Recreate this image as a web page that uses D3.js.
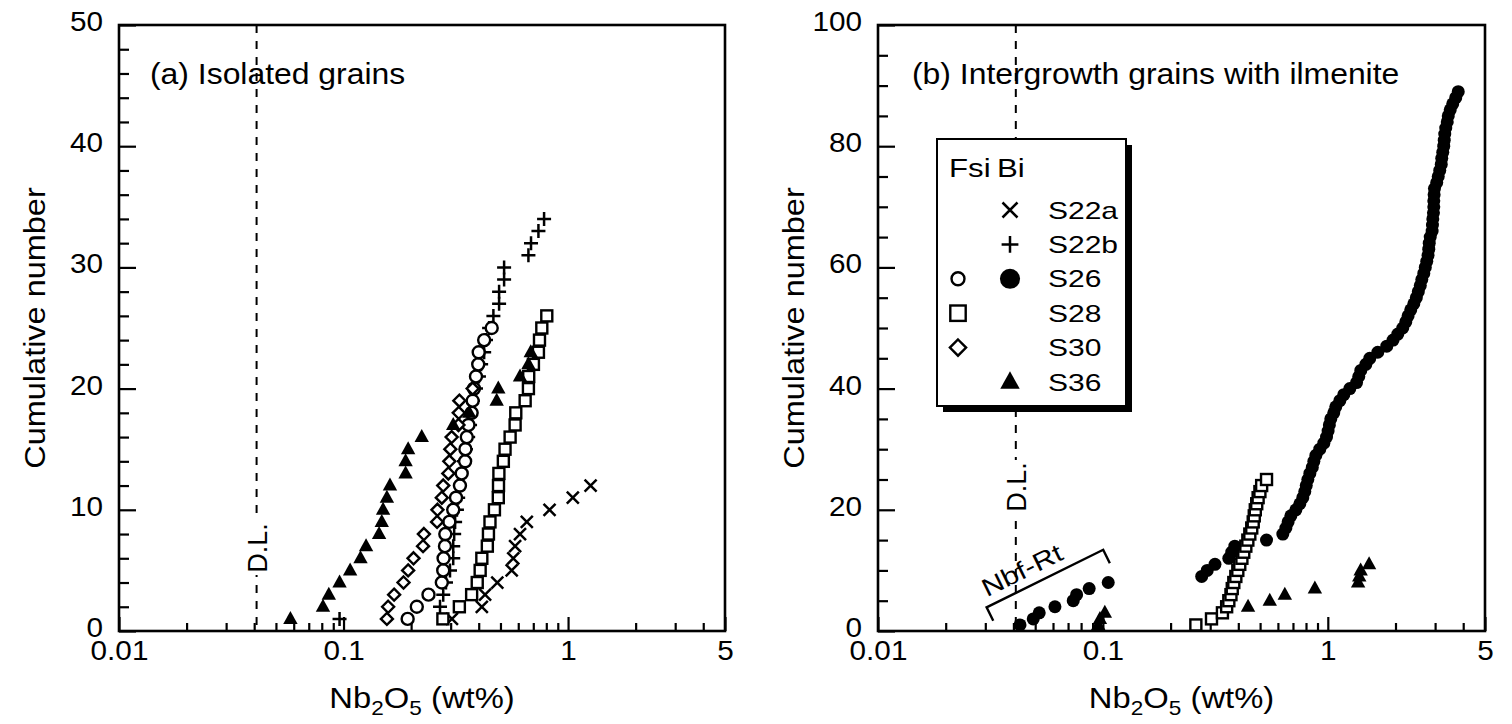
<!DOCTYPE html>
<html>
<head>
<meta charset="utf-8">
<script src="https://cdn.jsdelivr.net/npm/d3@7"></script>
<style>
  body { margin: 0; background: #fff; }
  svg { display: block; font-family: "Liberation Sans", Arial, Helvetica, sans-serif; }
</style>
</head>
<body>
<svg id="chart" width="1512" height="724"></svg>
<script>
// Nb2O5 contents (wt%) of rutile grains, listed in rank order;
// the cumulative number of a grain is its rank (1, 2, 3, ...).

const xTickValues = [0.01, 0.1, 1, 5];
const xTickLabels = ["0.01", "0.1", "1", "5"];
const yTicksA = [0, 10, 20, 30, 40, 50];
const yTicksB = [0, 20, 40, 60, 80, 100];
const detectionLimit = 0.041;

// (a) Isolated grains
const a_S22a = [0.304, 0.413, 0.427, 0.484, 0.561, 0.570, 0.581, 0.611, 0.655, 0.827, 1.05, 1.26];
const a_S22b = [0.096, 0.269, 0.278, 0.286, 0.298, 0.308, 0.308, 0.311, 0.314, 0.320, 0.324, 0.330,
                0.334, 0.344, 0.351, 0.359, 0.366, 0.370, 0.377, 0.389, 0.401, 0.410, 0.423, 0.431,
                0.445, 0.465, 0.493, 0.493, 0.519, 0.519, 0.666, 0.684, 0.738, 0.782];
const a_S26 = [0.193, 0.212, 0.239, 0.274, 0.278, 0.279, 0.283, 0.284, 0.296, 0.308, 0.317, 0.330,
               0.336, 0.348, 0.349, 0.354, 0.360, 0.372, 0.376, 0.381, 0.389, 0.398, 0.400, 0.423, 0.457];
const a_S28 = [0.277, 0.328, 0.372, 0.394, 0.406, 0.413, 0.437, 0.442, 0.449, 0.470, 0.489, 0.490,
               0.492, 0.515, 0.524, 0.552, 0.581, 0.585, 0.644, 0.666, 0.668, 0.701, 0.738, 0.746,
               0.764, 0.804];
const a_S30 = [0.156, 0.158, 0.168, 0.185, 0.194, 0.205, 0.226, 0.228, 0.261, 0.262, 0.274, 0.278,
               0.293, 0.296, 0.299, 0.303, 0.325, 0.326, 0.328, 0.376];
const a_S36 = [0.058, 0.081, 0.086, 0.096, 0.107, 0.119, 0.126, 0.144, 0.148, 0.150, 0.156, 0.161,
               0.189, 0.189, 0.194, 0.223, 0.308, 0.363, 0.481, 0.489, 0.611, 0.666, 0.682];

// (b) Intergrowth grains with ilmenite
const b_S26 = [0.0428, 0.049, 0.0521, 0.0612, 0.0738, 0.0764, 0.0869, 0.1056,
               0.275, 0.291, 0.315, 0.363, 0.374, 0.386, 0.534,
               0.631, 0.651, 0.666, 0.685, 0.721, 0.751, 0.774, 0.790, 0.802, 0.815,
               0.832, 0.853, 0.867, 0.885, 0.921, 0.960, 0.987, 1.003, 1.016, 1.031,
               1.063, 1.085, 1.131, 1.178, 1.253, 1.342, 1.373, 1.402, 1.476, 1.537,
               1.668, 1.829, 1.951, 2.048, 2.154, 2.222, 2.275, 2.338, 2.412, 2.475,
               2.526, 2.578, 2.618, 2.672, 2.713, 2.754, 2.791, 2.811, 2.825, 2.854,
               2.91, 2.92, 2.93, 2.95, 2.96, 2.96, 2.97, 2.98, 3.05, 3.098,
               3.146, 3.195, 3.211, 3.244, 3.277, 3.294, 3.311, 3.345, 3.397, 3.432,
               3.502, 3.593, 3.706, 3.802];
const b_S28 = [0.259, 0.304, 0.340, 0.355, 0.363, 0.371, 0.376, 0.382, 0.390, 0.398, 0.406, 0.415,
               0.423, 0.432, 0.441, 0.450, 0.459, 0.466, 0.471, 0.476, 0.483, 0.490, 0.499, 0.508, 0.534];
const b_S36 = [0.0953, 0.097, 0.102, 0.442, 0.552, 0.644, 0.876, 1.364, 1.38, 1.40, 1.526];

// Nbf-Rt bracket ends in data units (Nb2O5 wt%, cumulative number)
const nbfBracket = [[0.0304, 3.9], [0.1003, 13.4]];

// Legend rows: sample, Fsi symbol, Bi symbol
const legendSamples = ["S22a", "S22b", "S26", "S28", "S30", "S36"];
const legendFsi = [null, null, "circleOpen", "square", "diamond", null];
const legendBi = ["times", "plus", "circleFilled", null, null, "triangle"];

const svg = d3.select("#chart");

// The lettering of this figure is a little wider than Arial/Liberation Sans,
// so text is stretched horizontally by a small factor.
function label(g, str, opt) {
  const t = g.append("text")
    .attr("transform", `translate(${opt.x},${opt.y}) rotate(${opt.rotate || 0}) scale(${opt.sx || 1},1)`)
    .attr("font-size", opt.size)
    .attr("text-anchor", opt.anchor || "start")
    .attr("fill", "#000");
  if (str !== null) t.text(str);
  return t;
}

// ---- marker drawing ----
function drawMarker(g, type, cx, cy, s = 1) {
  switch (type) {
    case "circleOpen":
      g.append("circle").attr("cx", cx).attr("cy", cy).attr("r", 6 * s)
        .attr("fill", "#fff").attr("stroke", "#000").attr("stroke-width", 2.4);
      break;
    case "circleFilled":
      g.append("circle").attr("cx", cx).attr("cy", cy).attr("r", 6.5 * s).attr("fill", "#000");
      break;
    case "square": {
      const h = 5.5 * s;
      g.append("rect").attr("x", cx - h).attr("y", cy - h).attr("width", 2 * h).attr("height", 2 * h)
        .attr("fill", "#fff").attr("stroke", "#000").attr("stroke-width", 2.4);
      break;
    }
    case "diamond": {
      const h = 6 * s;
      g.append("path")
        .attr("d", `M${cx},${cy - h}L${cx + h},${cy}L${cx},${cy + h}L${cx - h},${cy}Z`)
        .attr("fill", "#fff").attr("stroke", "#000").attr("stroke-width", 2.4);
      break;
    }
    case "triangle":
      g.append("path")
        .attr("d", `M${cx},${cy - 8 * s}L${cx + 7.2 * s},${cy + 5 * s}L${cx - 7.2 * s},${cy + 5 * s}Z`)
        .attr("fill", "#000");
      break;
    case "plus": {
      const h = 7 * s;
      g.append("path")
        .attr("d", `M${cx - h},${cy}H${cx + h}M${cx},${cy - h}V${cy + h}`)
        .attr("stroke", "#000").attr("stroke-width", 2.5).attr("fill", "none");
      break;
    }
    case "times": {
      const h = 6 * s;
      g.append("path")
        .attr("d", `M${cx - h},${cy - h}L${cx + h},${cy + h}M${cx + h},${cy - h}L${cx - h},${cy + h}`)
        .attr("stroke", "#000").attr("stroke-width", 2.5).attr("fill", "none");
      break;
    }
  }
}

// ---- one panel ----
function drawPanel(cfg) {
  const { left, right, top, bottom } = cfg.box;
  const x = d3.scaleLog().domain([0.01, 5]).range([left, right]);
  const y = d3.scaleLinear().domain([0, cfg.yMax]).range([bottom, top]);
  const g = svg.append("g");

  // minor log ticks 2..9 per decade
  const xMinor = [];
  [0.01, 0.1, 1].forEach(dec => {
    for (let k = 2; k <= 9; k++) {
      const v = +(k * dec).toPrecision(3);
      if (v < 5) xMinor.push(v);
    }
  });
  const yMinor = d3.range(0, cfg.yMax + 0.001, cfg.yMinorStep).filter(v => !cfg.yTicks.includes(v));

  const axX = g.append("g").attr("transform", `translate(0,${bottom})`);
  axX.append("g").call(d3.axisBottom(x).tickValues(xMinor).tickSize(-8).tickFormat(""));
  axX.append("g").call(d3.axisBottom(x).tickValues(xTickValues).tickSize(-14).tickPadding(10)
    .tickFormat((d, i) => xTickLabels[i]));

  const axY = g.append("g").attr("transform", `translate(${left},0)`);
  axY.append("g").call(d3.axisLeft(y).tickValues(yMinor).tickSize(-10).tickFormat(""));
  axY.append("g").call(d3.axisLeft(y).tickValues(cfg.yTicks).tickSize(-17).tickPadding(14.5));

  g.selectAll(".domain").remove();
  g.selectAll(".tick line").attr("stroke", "#000").attr("stroke-width", 2.2);
  g.selectAll(".tick text").attr("font-size", 27).attr("fill", "#000")
    .style("font-family", '"Liberation Sans", Arial, Helvetica, sans-serif')
    .attr("transform", "scale(1.1,1)");
  axY.selectAll(".tick text").attr("dy", "0.2em");

  // frame
  g.append("rect").attr("x", left).attr("y", top).attr("width", right - left).attr("height", bottom - top)
    .attr("fill", "none").attr("stroke", "#000").attr("stroke-width", 2.6);

  // detection limit
  const xd = x(detectionLimit);
  g.append("line").attr("x1", xd).attr("x2", xd).attr("y1", top).attr("y2", bottom)
    .attr("stroke", "#000").attr("stroke-width", 2).attr("stroke-dasharray", "8,8");
  g.append("rect").attr("x", xd - 12).attr("y", cfg.dlY - 27).attr("width", 24).attr("height", 54)
    .attr("fill", "#fff");
  label(g, "D.L.", { x: xd + 10, y: cfg.dlY, rotate: -90, size: 27, anchor: "middle" });

  // series
  const marks = g.append("g");
  cfg.series.forEach(s => {
    s.values.forEach((v, i) => drawMarker(marks, s.type, x(v), y(i + 1)));
  });

  // panel title
  label(g, cfg.title, { x: cfg.titleX, y: 84, size: 29, sx: 1.1 });

  // axis titles
  label(g, "Cumulative number", { x: cfg.yTitleX, y: (top + bottom) / 2, rotate: -90, size: 29, sx: 1.12, anchor: "middle" });
  const xt = label(g, null, { x: (left + right) / 2, y: 708, size: 29, sx: 1.13, anchor: "middle" });
  xt.append("tspan").text("Nb");
  xt.append("tspan").attr("font-size", 20).attr("dy", 7).text("2");
  xt.append("tspan").attr("dy", -7).text("O");
  xt.append("tspan").attr("font-size", 20).attr("dy", 7).text("5");
  xt.append("tspan").attr("dy", -7).text(" (wt%)");

  return { g, x, y };
}

const panelA = drawPanel({
  box: { left: 119, right: 725, top: 25, bottom: 631 },
  yMax: 50, yTicks: yTicksA, yMinorStep: 2,
  title: "(a) Isolated grains", titleX: 150, yTitleX: 45, dlY: 548,
  series: [
    { type: "plus", values: a_S22b },
    { type: "times", values: a_S22a },
    { type: "circleOpen", values: a_S26 },
    { type: "square", values: a_S28 },
    { type: "diamond", values: a_S30 },
    { type: "triangle", values: a_S36 }
  ]
});

const panelB = drawPanel({
  box: { left: 878, right: 1485, top: 25, bottom: 631 },
  yMax: 100, yTicks: yTicksB, yMinorStep: 5,
  title: "(b) Intergrowth grains with ilmenite", titleX: 912, yTitleX: 804, dlY: 487,
  series: [
    { type: "square", values: b_S28 },
    { type: "circleFilled", values: b_S26 },
    { type: "triangle", values: b_S36 }
  ]
});

// Nbf-Rt bracket
(function () {
  const { g, x, y } = panelB;
  const p0 = [x(nbfBracket[0][0]), y(nbfBracket[0][1])];
  const p1 = [x(nbfBracket[1][0]), y(nbfBracket[1][1])];
  const dx = p1[0] - p0[0], dy = p1[1] - p0[1];
  const len = Math.hypot(dx, dy);
  const nx = -dy / len, ny = dx / len; // perpendicular, pointing down
  const leg = 15;
  g.append("path")
    .attr("d", `M${p0[0] + nx * leg},${p0[1] + ny * leg}L${p0[0]},${p0[1]}L${p1[0]},${p1[1]}L${p1[0] + nx * leg},${p1[1] + ny * leg}`)
    .attr("fill", "none").attr("stroke", "#000").attr("stroke-width", 2.4);
  const ang = Math.atan2(dy, dx) * 180 / Math.PI;
  const tx = p0[0] + dx * 0.37 - nx * 9, ty = p0[1] + dy * 0.37 - ny * 9;
  label(g, "Nbf-Rt", { x: tx, y: ty, rotate: ang, size: 25, sx: 1.2, anchor: "middle" });
})();

// Legend with drop shadow
(function () {
  const lg = svg.append("g");
  const bx = 937, by = 139, bw = 189, bh = 267;
  lg.append("rect").attr("x", bx + 6).attr("y", by + 6).attr("width", bw).attr("height", bh).attr("fill", "#000");
  lg.append("rect").attr("x", bx).attr("y", by).attr("width", bw).attr("height", bh)
    .attr("fill", "#fff").attr("stroke", "#000").attr("stroke-width", 2);
  label(lg, "Fsi", { x: 949, y: 177, size: 26, sx: 1.2 });
  label(lg, "Bi", { x: 997, y: 177, size: 26, sx: 1.2 });
  const legendScale = { circleOpen: 1.08, circleFilled: 1.55, square: 1.4, diamond: 1.35, triangle: 1.35, plus: 1.2, times: 1.25 };
  legendSamples.forEach((s, i) => {
    const cy = 210 + i * 34.4;
    if (legendFsi[i]) drawMarker(lg, legendFsi[i], 958, cy, legendScale[legendFsi[i]]);
    if (legendBi[i]) drawMarker(lg, legendBi[i], 1010, cy, legendScale[legendBi[i]]);
    label(lg, s, { x: 1048, y: cy + 8.5, size: 24, sx: 1.25 });
  });
})();
</script>
</body>
</html>
